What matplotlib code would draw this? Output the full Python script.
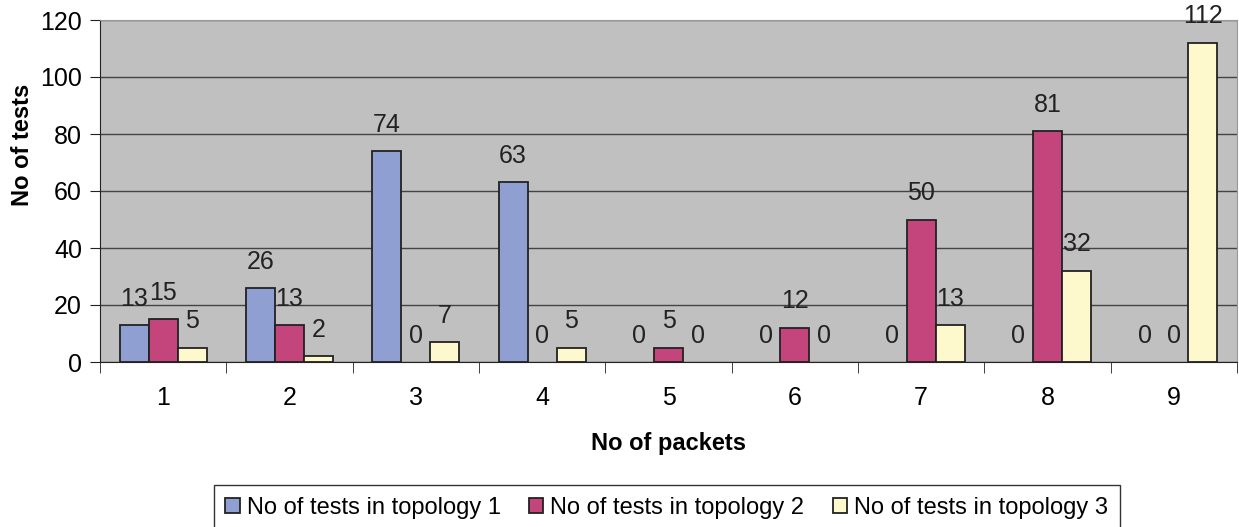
import numpy as np
import matplotlib
matplotlib.use("Agg")
import matplotlib.pyplot as plt

packets = ["1", "2", "3", "4", "5", "6", "7", "8", "9"]
topology1 = [13, 26, 74, 63, 0, 0, 0, 0, 0]
topology2 = [15, 13, 0, 0, 5, 12, 50, 81, 0]
topology3 = [5, 2, 7, 5, 0, 0, 13, 32, 112]
series_names = ["No of tests in topology 1", "No of tests in topology 2", "No of tests in topology 3"]
colors = ["#8f9fd2", "#c4457b", "#fdf9cc"]

plt.rcParams["font.family"] = ["Liberation Sans", "DejaVu Sans"]

fig = plt.figure(figsize=(12.39, 5.27), dpi=100)
ax = fig.add_axes([100 / 1239, 1 - 362 / 527, 1137 / 1239, 342 / 527])
ax.set_facecolor("#c0c0c0")

x = np.arange(len(packets))
width = 0.23
for i, (vals, name, col) in enumerate(zip([topology1, topology2, topology3], series_names, colors)):
    pos = x + (i - 1) * width
    lws = [1.3 if v > 0 else 0 for v in vals]
    ax.bar(pos, vals, width=width, color=col, edgecolor="#222222", linewidth=lws, label=name, zorder=3)
    for px, v in zip(pos, vals):
        ax.annotate(str(v), (px, v), xytext=(0, 19), textcoords="offset points",
                    ha="center", va="center", fontsize=18, color="#222222", zorder=4)

ax.set_xlim(-0.5, len(packets) - 0.5)
ax.set_ylim(0, 120)
ax.set_yticks(range(0, 121, 20))
ax.yaxis.grid(True, color="#444444", linewidth=1, zorder=1)
ax.set_xticks(x)
ax.set_xticklabels(packets)
ax.set_xticks(np.arange(-0.5, len(packets), 1), minor=True)
ax.tick_params(axis="x", which="major", length=0, pad=17, labelsize=18)
ax.tick_params(axis="x", which="minor", length=8, color="#222222")
ax.tick_params(axis="y", length=7, pad=6, labelsize=18, color="#222222")

for side in ["top", "right"]:
    ax.spines[side].set_color("#999999")
ax.spines["left"].set_color("#222222")
ax.spines["bottom"].set_color("#222222")

ax.set_xlabel("No of packets", fontsize=17, fontweight="bold", labelpad=16)
ax.set_ylabel("No of tests", fontsize=17, fontweight="bold")
ax.yaxis.set_label_coords(-0.058, 0.635)

leg = fig.legend(loc="upper center", bbox_to_anchor=(0.538, 1 - 485 / 527), ncol=3,
                 fontsize=17, frameon=True, fancybox=False, edgecolor="black",
                 handlelength=0.6, handleheight=0.6, handletextpad=0.3, columnspacing=1.2,
                 borderpad=0.5, borderaxespad=0)
leg.get_frame().set_linewidth(1)

fig.savefig("out.png", dpi=100)
